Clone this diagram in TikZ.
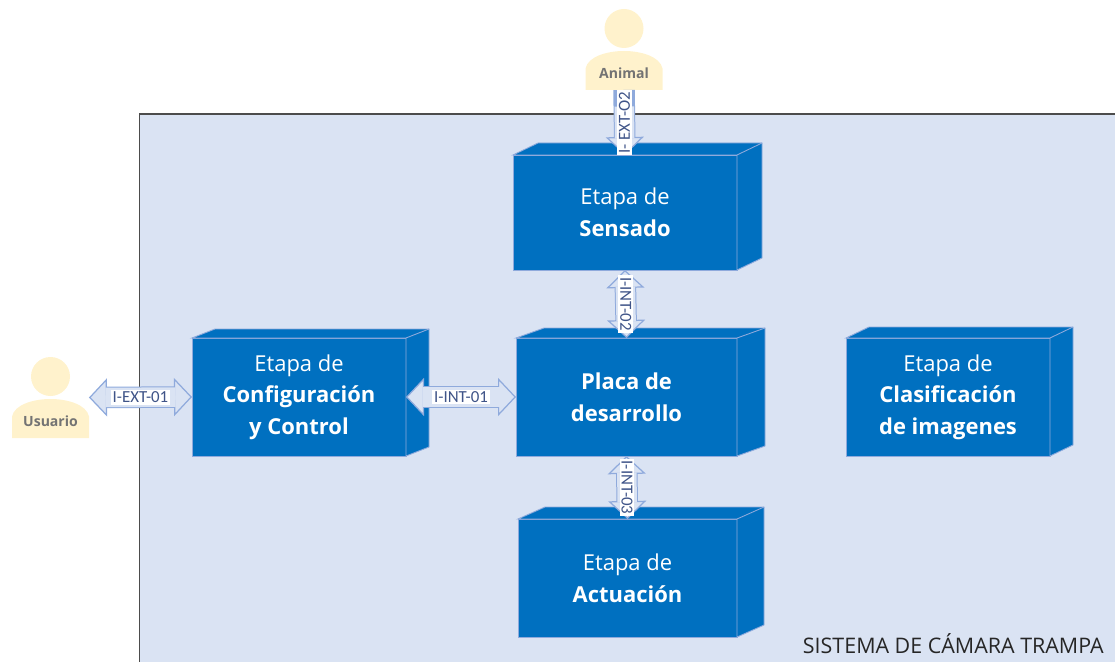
\documentclass[tikz,border=0pt]{standalone}
\usepackage{fontspec}
\setmainfont{Open Sans}
\newfontfamily\etiquetafont{Carlito}
\usetikzlibrary{arrows.meta,calc}

\definecolor{fondo}{HTML}{DAE3F3}
\definecolor{azul}{HTML}{0070C0}
\definecolor{borde}{HTML}{8FAADC}
\definecolor{crema}{HTML}{FFF2CC}
\definecolor{pizarra}{HTML}{3F5488}

\tikzset{
  punta/.tip={Triangle[length=0.36cm,width=0.76cm,fill=fondo,color=borde,line width=0.7pt]},
  etapa/.style={draw=borde, line width=0.5pt, fill=azul, text=white, align=center, inner sep=0pt, outer sep=0pt, font=\fontsize{12.5}{18}\selectfont},
  cara/.style={draw=borde, line width=0.5pt, fill=azul},
  bloque/.style={draw=borde, line width=0.43cm, postaction={draw=fondo, line width=0.39cm, arrows=-, shorten >=0.33cm, shorten <=0.33cm}},
  etiqueta/.style={fill=white, text=pizarra, inner sep=1pt, font=\etiquetafont\fontsize{9.6}{10}\selectfont},
  persona/.style={minimum width=1.54cm, minimum height=1.62cm, inner sep=0pt, outer sep=0pt},
  personatexto/.style={text=black!55, font=\fontsize{8}{8}\selectfont\bfseries}
}

% name, centre x, centre y, width, height, depth x, depth y, text
\newcommand{\etapabox}[8]{
  \node[etapa, minimum width=#4*0.02cm, minimum height=#5*0.02cm] (#1) at (#2,#3) {#8};
  \draw[cara] (#1.north west) -- ++(#6,-#7) -- ($(#1.north east)+(#6,-#7)$) -- ($(#1.south east)+(#6,-#7)$) -- (#1.south east) -- (#1.north east) -- cycle;
  \draw[cara] (#1.north east) -- ++(#6,-#7);
}

% name, centre x, centre y, text
\newcommand{\personafig}[4]{
  \begin{scope}[shift={(#2,#3)}]
    \fill[crema] (0,-21) circle [radius=19.5];
    \fill[crema] (-38.5,40.5) -- (-38.5,19) .. controls (-36,7) and (-17,1.5) .. (0,1.5) .. controls (17,1.5) and (36,7) .. (38.5,19) -- (38.5,40.5) -- cycle;
    \node[persona] (#1) at (0,0) {};
    \node[personatexto] (#1texto) at (0,23.5) {#4};
  \end{scope}
}

\begin{document}
\begin{tikzpicture}[x=0.02cm, y=-0.02cm]
    \useasboundingbox (0,0) rectangle (1115,662);

    % System frame, open at the right and at the bottom
    \fill[fondo] (139.5,114) rectangle (1115,662);
    \draw[black!70, line width=0.6pt] (139.5,662) -- (139.5,114) -- (1115,114);
    \node[anchor=east, text=black!85, inner sep=0pt, font=\fontsize{12.2}{14}\selectfont] (sistema) at (1104,644) {SISTEMA DE CÁMARA TRAMPA};

    % Blocks
    \etapabox{sensado}{625}{212.5}{224}{115}{25}{12}{Etapa de\\\textbf{Sensado}}
    \etapabox{config}{299}{397}{214}{118}{23}{9}{Etapa de\\\textbf{Configuración}\\\textbf{y Control}}
    \etapabox{placa}{626.5}{397}{221}{118}{28}{10}{\textbf{Placa de}\\\textbf{desarrollo}}
    \etapabox{clasif}{948}{397}{204}{118}{23}{11}{Etapa de\\\textbf{Clasificación}\\\textbf{de imagenes}}
    \etapabox{actuacion}{627.5}{578}{219}{118}{27}{12}{Etapa de\\\textbf{Actuación}}

    % Actors
    \personafig{animal}{624}{49.5}{Animal}
    \personafig{usuario}{50.5}{397.5}{Usuario}

    % Interfaces
    \draw[bloque, -punta] (animal.south) -- node[etiqueta, rotate=90] {I- EXT-O2} (sensado.north);
    \draw[bloque, punta-punta] (usuario.east) -- node[etiqueta] {I-EXT-01} (config.west);
    \draw[bloque, punta-punta] (config.east) -- node[etiqueta] {I-INT-01} (placa.west);
    \draw[bloque, punta-punta] (sensado.south) -- node[etiqueta, rotate=-90] {I-INT-02} (placa.north);
    \draw[bloque, punta-punta] (placa.south) -- node[etiqueta, rotate=-90] {I-INT-03} (actuacion.north);
\end{tikzpicture}
\end{document}
